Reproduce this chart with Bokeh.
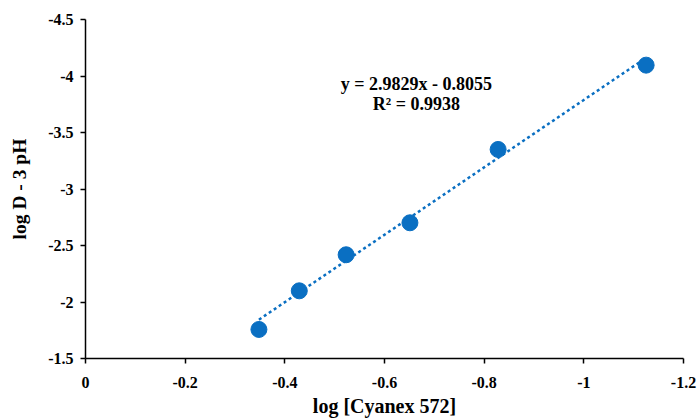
from bokeh.plotting import figure
from bokeh.models import Range1d, FixedTicker, LinearAxis
from bokeh.embed import file_html
from bokeh.resources import INLINE
from bokeh.core.properties import value

# ---- data ----
log_cyanex = [-0.348, -0.429, -0.523, -0.651, -0.828, -1.125]
log_d_minus_3ph = [-1.757, -2.099, -2.418, -2.701, -3.350, -4.096]

fit_slope = 2.9829
fit_intercept = -0.8055
equation_text = "y = 2.9829x - 0.8055"
r2_text = "R² = 0.9938"

x_ticks = [0, -0.2, -0.4, -0.6, -0.8, -1.0, -1.2]
x_tick_labels = ["0", "-0.2", "-0.4", "-0.6", "-0.8", "-1", "-1.2"]
y_ticks = [-1.5, -2.0, -2.5, -3.0, -3.5, -4.0, -4.5]
y_tick_labels = ["-1.5", "-2", "-2.5", "-3", "-3.5", "-4", "-4.5"]

x_title = "log [Cyanex 572]"
y_title = "log D - 3 pH"

# ---- style ----
FONT = "Liberation Serif"
BLUE = "#0A6FC2"

p = figure(width=698, height=419, output_backend="svg", toolbar_location=None,
           x_range=Range1d(0, -1.2), y_range=Range1d(-1.5, -4.5),
           x_axis_location=None, y_axis_location=None,
           min_border_left=85, min_border_right=15, min_border_top=19,
           min_border_bottom=61)
p.outline_line_color = None
p.grid.visible = False
p.background_fill_color = "white"
p.border_fill_color = "white"

xaxis = LinearAxis(ticker=FixedTicker(ticks=x_ticks),
                   major_label_overrides={t: l for t, l in zip(x_ticks, x_tick_labels)},
                   axis_label=x_title)
yaxis = LinearAxis(ticker=FixedTicker(ticks=y_ticks),
                   major_label_overrides={t: l for t, l in zip(y_ticks, y_tick_labels)},
                   axis_label=y_title)
for ax in (xaxis, yaxis):
    ax.axis_line_color = "black"
    ax.axis_line_width = 1.5
    ax.major_tick_line_color = "black"
    ax.major_tick_line_width = 1.5
    ax.major_tick_in = 0
    ax.major_tick_out = 5
    ax.minor_tick_line_color = None
    ax.major_label_text_font = FONT
    ax.major_label_text_font_style = "bold"
    ax.major_label_text_font_size = "16px"
    ax.major_label_text_color = "black"
    ax.axis_label_text_font = FONT
    ax.axis_label_text_font_style = "bold"
    ax.axis_label_text_color = "black"
xaxis.major_label_standoff = 13
xaxis.axis_label_standoff = 4
xaxis.axis_label_text_font_size = "20px"
yaxis.major_label_standoff = 7
yaxis.axis_label_standoff = 15
yaxis.axis_label_text_font_size = "19.5px"
p.add_layout(xaxis, "below")
p.add_layout(yaxis, "left")

# trendline over the data's x extent
x0, x1 = max(log_cyanex), min(log_cyanex)
p.line([x0, x1], [fit_slope * x0 + fit_intercept, fit_slope * x1 + fit_intercept],
       line_color=BLUE, line_width=2.5, line_dash="3 3")

p.scatter(log_cyanex, log_d_minus_3ph, size=16, fill_color=BLUE, line_color=BLUE)

p.text(x=[-0.664], y=[-3.925], text=[equation_text], text_align="center",
       text_baseline="middle", text_font=value(FONT), text_font_style="bold",
       text_font_size="18px", text_color="black")
p.text(x=[-0.664], y=[-3.750], text=[r2_text], text_align="center",
       text_baseline="middle", text_font=value(FONT), text_font_style="bold",
       text_font_size="18px", text_color="black")

open("out.html", "w").write(file_html(p, INLINE))
